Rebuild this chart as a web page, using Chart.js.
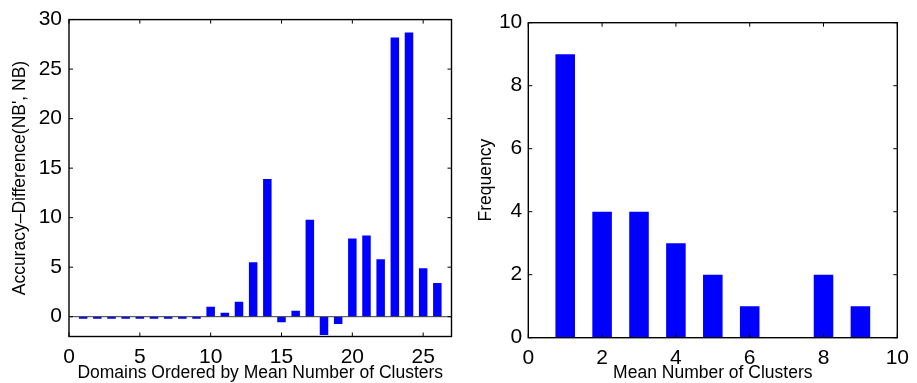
<!DOCTYPE html>
<html>
<head>
<meta charset="utf-8">
<script src="https://cdn.jsdelivr.net/npm/chart.js@4/dist/chart.umd.min.js"></script>
<style>
  html, body { margin:0; padding:0; background:#fff; }
  #wrap { position:relative; width:917px; height:383px; overflow:hidden; }
  #c1 { position:absolute; left:0; top:0; }
  #c2 { position:absolute; left:460px; top:0; }
</style>
</head>
<body>
<div id="wrap">
  <canvas id="c1" width="460" height="383"></canvas>
  <canvas id="c2" width="457" height="383"></canvas>
</div>
<script>
// ---- Left chart data ----
const domainIndex = [1,2,3,4,5,6,7,8,9,10,11,12,13,14,15,16,17,18,19,20,21,22,23,24,25,26];
const accuracyDiff = [-0.2,-0.2,-0.2,-0.2,-0.2,-0.2,-0.2,-0.2,-0.2,1.0,0.4,1.5,5.5,13.9,-0.55,0.6,9.8,-1.85,-0.75,7.9,8.2,5.8,28.2,28.7,4.9,3.4];
const leftXTicks = [0,5,10,15,20,25];
const leftYTicks = [0,5,10,15,20,25,30];

// ---- Right chart data ----
const clusterBins = [1,2,3,4,5,6,7,8,9];
const frequency = [9,4,4,3,2,1,0,2,1];
const rightXTicks = [0,2,4,6,8,10];
const rightYTicks = [0,2,4,6,8,10];

const FONT = "'Liberation Sans', Arial, Helvetica, sans-serif";
const BLUE = '#0000ff';

const framePlugin = {
  id: 'frame',
  afterDatasetsDraw(chart, args, opts) {
    const ctx = chart.ctx;
    const a = chart.chartArea;
    const xs = chart.scales.x, ys = chart.scales.y;
    ctx.save();
    if (opts.zeroLine) {
      const y0 = ys.getPixelForValue(0);
      ctx.strokeStyle = '#3a3a3a';
      ctx.lineWidth = 1;
      ctx.beginPath();
      ctx.moveTo(a.left, y0);
      ctx.lineTo(a.right, y0);
      ctx.stroke();
    }
    ctx.strokeStyle = '#000';
    ctx.lineWidth = 1.4;
    ctx.strokeRect(a.left, a.top, a.right - a.left, a.bottom - a.top);
    const tl = 4;
    ctx.lineWidth = 1;
    ctx.beginPath();
    xs.ticks.forEach(t => {
      const x = xs.getPixelForValue(t.value);
      ctx.moveTo(x, a.bottom); ctx.lineTo(x, a.bottom - tl);
      ctx.moveTo(x, a.top); ctx.lineTo(x, a.top + tl);
    });
    ys.ticks.forEach(t => {
      const y = ys.getPixelForValue(t.value);
      ctx.moveTo(a.left, y); ctx.lineTo(a.left + tl, y);
      ctx.moveTo(a.right, y); ctx.lineTo(a.right - tl, y);
    });
    ctx.stroke();
    ctx.restore();
  }
};

function makeChart(canvasId, xVals, yVals, cfg) {
  const data = xVals.map((x, i) => ({ x: x, y: yVals[i] }));
  return new Chart(document.getElementById(canvasId), {
    type: 'bar',
    data: {
      datasets: [{
        data: data,
        backgroundColor: BLUE,
        borderWidth: 0,
        barPercentage: cfg.barPct,
        categoryPercentage: 1.0
      }]
    },
    options: {
      responsive: false,
      animation: false,
      events: [],
      layout: { padding: { top: cfg.padTop, right: cfg.padRight, left: 0, bottom: 0 } },
      plugins: {
        legend: { display: false },
        tooltip: { enabled: false },
        frame: { zeroLine: cfg.zeroLine }
      },
      scales: {
        x: {
          type: 'linear',
          offset: false,
          min: cfg.xMin, max: cfg.xMax,
          afterBuildTicks: s => { s.ticks = cfg.xTicks.map(v => ({ value: v })); },
          afterFit: s => { s.height = cfg.xHeight; },
          grid: { display: false, drawTicks: false },
          border: { display: false },
          ticks: {
            autoSkip: false, maxRotation: 0, padding: cfg.xTickPad,
            color: '#000', font: { family: FONT, size: 21 },
            callback: v => String(v)
          },
          title: {
            display: true, text: cfg.xTitle, color: '#000',
            font: { family: FONT, size: 17.5, lineHeight: 1 },
            padding: { top: 0, bottom: cfg.xTitlePad }
          }
        },
        y: {
          type: 'linear',
          min: cfg.yMin, max: cfg.yMax,
          afterBuildTicks: s => { s.ticks = cfg.yTicks.map(v => ({ value: v })); },
          afterFit: s => { s.width = cfg.yWidth; },
          grid: { display: false, drawTicks: false },
          border: { display: false },
          ticks: {
            padding: cfg.yTickPad,
            color: '#000', font: { family: FONT, size: 21 },
            callback: v => String(v)
          },
          title: {
            display: true, text: cfg.yTitle, color: '#000',
            font: { family: FONT, size: 17.5, lineHeight: 1 },
            padding: { top: cfg.yTitlePad, bottom: 0 }
          }
        }
      }
    },
    plugins: [framePlugin]
  });
}

makeChart('c1', domainIndex, accuracyDiff, {
  barPct: 0.6, zeroLine: true,
  xMin: 0, xMax: 27, yMin: -2, yMax: 30,
  xTicks: leftXTicks, yTicks: leftYTicks,
  padTop: 15, padRight: 8.5, xHeight: 46.5, yWidth: 69,
  xTickPad: 8, yTickPad: 7, xTitlePad: 1, yTitlePad: 11.5,
  xTitle: 'Domains Ordered by Mean Number of Clusters',
  yTitle: "Accuracy–Difference(NB', NB)"
});

makeChart('c2', clusterBins, frequency, {
  barPct: 0.53, zeroLine: false,
  xMin: 0, xMax: 10, yMin: 0, yMax: 10,
  xTicks: rightXTicks, yTicks: rightYTicks,
  padTop: 22.7, padRight: 13.7, xHeight: 45.3, yWidth: 68.3,
  xTickPad: 8, yTickPad: 6, xTitlePad: 1, yTitlePad: 17.5,
  xTitle: 'Mean Number of Clusters',
  yTitle: 'Frequency'
});
</script>
</body>
</html>
